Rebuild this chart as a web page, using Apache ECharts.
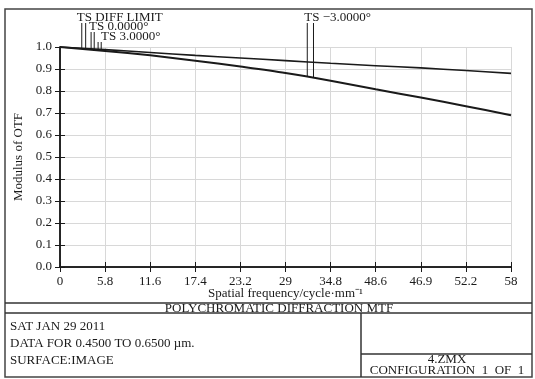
<!DOCTYPE html>
<html><head><meta charset="utf-8">
<script src="https://cdn.jsdelivr.net/npm/echarts@6/dist/echarts.min.js"></script>
<style>html,body{margin:0;padding:0;background:#fff}#c{width:535px;height:379px}</style>
</head><body><div id="c"></div>
<script>
// ---- data ----
const freqs = [0, 5.8, 11.6, 17.4, 23.2, 29, 34.8, 40.6, 46.4, 52.2, 58];
const diffLimit = [1.0, 0.988, 0.975, 0.962, 0.950, 0.938, 0.926, 0.915, 0.905, 0.893, 0.880];
const fieldMTF = [1.0, 0.982, 0.962, 0.938, 0.911, 0.882, 0.847, 0.808, 0.770, 0.731, 0.690];
const xTickLabels = ['0', '5.8', '11.6', '17.4', '23.2', '29', '34.8', '48.6', '46.9', '52.2', '58'];
const curveLabels = ['TS DIFF LIMIT', 'TS 0.0000\u00B0', 'TS 3.0000\u00B0', 'TS \u22123.0000\u00B0'];
const leaderFreqs = [[2.8, 3.3], [4.0, 4.4], [4.9, 5.3], [31.8, 32.6]];
const leaderCurve = ['diff', 'field', 'field', 'field'];
const footerLines = ['SAT JAN 29 2011', 'DATA FOR 0.4500 TO 0.6500 \u00B5m.', 'SURFACE:IMAGE'];
const titleText = 'POLYCHROMATIC DIFFRACTION MTF';
const fileText = '4.ZMX';
const configText = 'CONFIGURATION  1  OF  1';

const FONT = '"Liberation Serif", "Times New Roman", serif';
const INK = '#1a1a1a';
const chart = echarts.init(document.getElementById('c'), null, {renderer: 'canvas'});

const axisCommon = {
  type: 'value',
  axisLine: {show: true, lineStyle: {color: INK, width: 1.5}},
  axisTick: {show: true, inside: true, length: 5, lineStyle: {color: INK, width: 1}},
};

const option = {
  animation: false,
  backgroundColor: '#fff',
  grid: {left: 60, right: 24, top: 47, bottom: 112},
  xAxis: [
    Object.assign({}, axisCommon, {
      min: 0, max: 58, interval: 5.8, position: 'bottom',
      name: 'Spatial frequency/cycle\u00B7mm\u207B\u00B9', nameLocation: 'middle', nameGap: 20,
      nameMoveOverlap: false,
      nameTextStyle: {fontFamily: FONT, fontSize: 13, color: INK},
      axisLabel: {
        fontFamily: FONT, fontSize: 13, color: INK, margin: 8, showMaxLabel: true, showMinLabel: true,
        formatter: v => xTickLabels[Math.round(v / 5.8)]
      },
      splitLine: {show: true, lineStyle: {color: '#d8d8d8', width: 1}}
    }),
    Object.assign({}, axisCommon, {
      min: 0, max: 58, interval: 5.8, position: 'top',
      axisLabel: {show: false}, splitLine: {show: false}
    })
  ],
  yAxis: [
    Object.assign({}, axisCommon, {
      min: 0, max: 1, interval: 0.1, position: 'left',
      name: 'Modulus of OTF', nameLocation: 'middle', nameGap: 35, nameRotate: 90,
      nameMoveOverlap: false,
      nameTextStyle: {fontFamily: FONT, fontSize: 13, color: INK},
      axisLabel: {fontFamily: FONT, fontSize: 13, color: INK, margin: 8, formatter: v => v.toFixed(1)},
      splitLine: {show: true, lineStyle: {color: '#d8d8d8', width: 1}}
    }),
    Object.assign({}, axisCommon, {
      min: 0, max: 1, interval: 0.1, position: 'right',
      axisLabel: {show: false}, splitLine: {show: false}
    })
  ],
  series: [
    {
      name: curveLabels[0], type: 'line', xAxisIndex: 0, yAxisIndex: 0,
      data: freqs.map((f, i) => [f, diffLimit[i]]),
      showSymbol: false, symbol: 'none', smooth: 0.3,
      lineStyle: {color: INK, width: 1.6}
    },
    {
      name: curveLabels[1], type: 'line', xAxisIndex: 0, yAxisIndex: 0,
      data: freqs.map((f, i) => [f, fieldMTF[i]]),
      showSymbol: false, symbol: 'none', smooth: 0.3,
      lineStyle: {color: INK, width: 2}
    }
  ]
};
chart.setOption(option);

function interp(arr, f) {
  for (let i = 0; i < freqs.length - 1; i++) {
    if (f >= freqs[i] && f <= freqs[i + 1]) {
      const t = (f - freqs[i]) / (freqs[i + 1] - freqs[i]);
      return arr[i] + t * (arr[i + 1] - arr[i]);
    }
  }
  return arr[arr.length - 1];
}

// frame and footer table
const L = 5, R = 532, T = 9, B = 377;
const lineStyle = {stroke: '#333', lineWidth: 1.5};
const g = [];
g.push({type: 'rect', shape: {x: L, y: T, width: R - L, height: B - T}, style: {fill: 'none', stroke: '#444', lineWidth: 1.5}, silent: true});
g.push({type: 'line', shape: {x1: L, y1: 303, x2: R, y2: 303}, style: lineStyle});
g.push({type: 'line', shape: {x1: L, y1: 313, x2: R, y2: 313}, style: lineStyle});
g.push({type: 'line', shape: {x1: 361, y1: 313, x2: 361, y2: B}, style: lineStyle});
g.push({type: 'line', shape: {x1: 361, y1: 354, x2: R, y2: 354}, style: lineStyle});
const txt = (s, x, y, align) => ({type: 'text', x: x, y: y,
  style: {text: s, fill: INK, font: '13px ' + FONT, align: align || 'left', verticalAlign: 'middle'}});
g.push(txt(titleText, 279, 308.5, 'center'));
footerLines.forEach((s, i) => g.push(txt(s, 10, 327 + i * 17)));
g.push(txt(fileText, 447, 360, 'center'));
g.push(txt(configText, 447, 371, 'center'));

// curve labels with leader lines
const labelTop = [23, 32, 42, 23];
const labelY = [17.5, 26.5, 36.5, 17.5];
const labelDx = [-5, -2, 3, -3];
leaderFreqs.forEach((pair, k) => {
  const arr = leaderCurve[k] === 'diff' ? diffLimit : fieldMTF;
  pair.forEach(f => {
    const p = chart.convertToPixel({xAxisIndex: 0, yAxisIndex: 0}, [f, interp(arr, f)]);
    g.push({type: 'line', shape: {x1: p[0], y1: labelTop[k], x2: p[0], y2: p[1]}, style: {stroke: INK, lineWidth: 1}});
  });
  const p0 = chart.convertToPixel({xAxisIndex: 0, yAxisIndex: 0}, [pair[0], 1]);
  g.push(txt(curveLabels[k], p0[0] + labelDx[k], labelY[k]));
});
chart.setOption({graphic: g});
</script></body></html>
